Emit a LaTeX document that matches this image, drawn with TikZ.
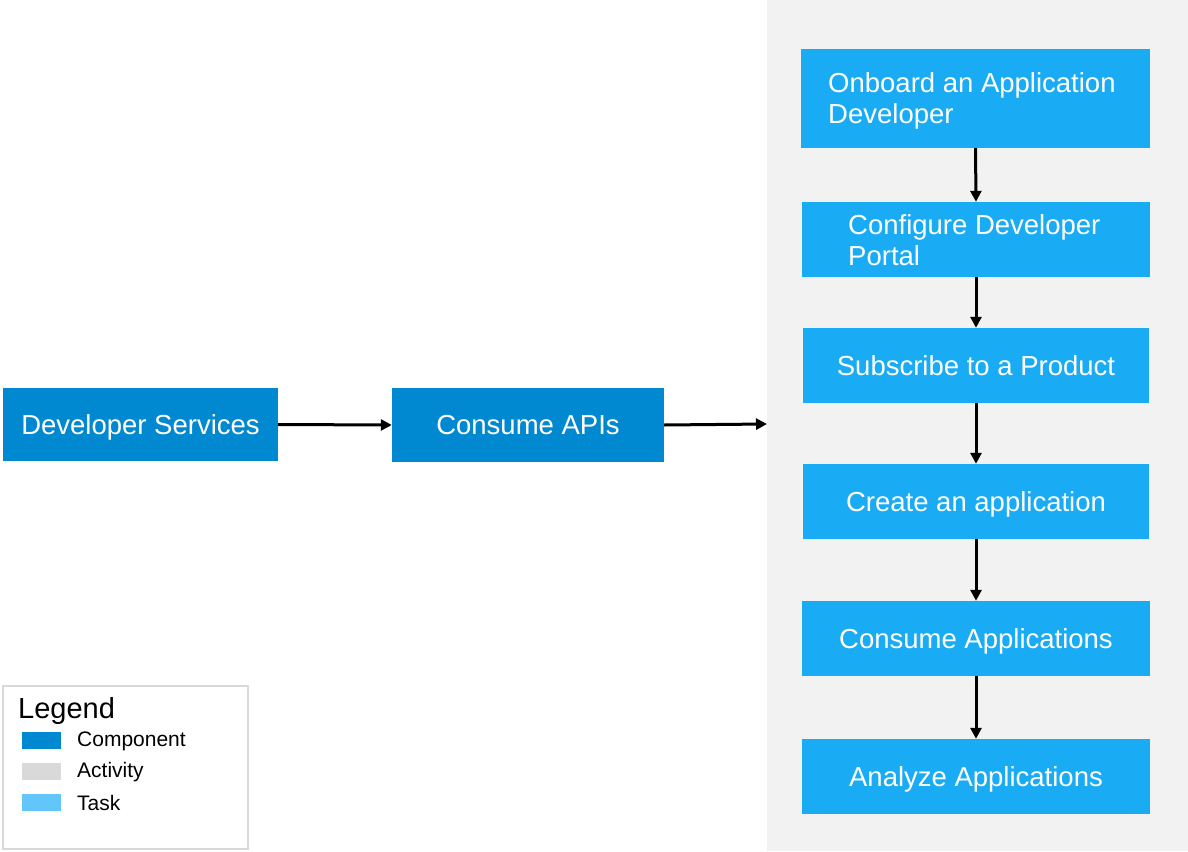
\documentclass[tikz,border=0pt]{standalone}
\usepackage{fontspec}
\setmainfont{Liberation Sans}
\usetikzlibrary{arrows.meta}
\definecolor{compc}{HTML}{0089D1}
\definecolor{taskc}{HTML}{1AABF5}
\definecolor{taskleg}{HTML}{63C6FA}
\definecolor{actc}{HTML}{D9D9D9}
\definecolor{panelc}{HTML}{F2F2F2}
\tikzset{
  compbox/.style={fill=compc, text=white, inner sep=0pt, font=\fontsize{27.5}{31}\selectfont, text height=19.5pt, text depth=0pt},
  taskbox/.style={fill=taskc, text=white, inner sep=0pt, font=\fontsize{27.5}{31}\selectfont},
  oneline/.style={text height=19.5pt, text depth=0pt},
  flow/.style={line width=3pt, -{Triangle[length=11pt,width=11pt]}},
  legtext/.style={anchor=west, inner sep=0pt, font=\fontsize{21}{25}\selectfont},
}
\begin{document}
\begin{tikzpicture}[x=1pt,y=-1pt]
\useasboundingbox (0,0) rectangle (1188,851);
\fill[panelc] (767,0) rectangle (1188,851);
\coordinate (pin) at (767,424);
% component boxes
\node[compbox, minimum width=275pt, minimum height=73pt] (ds) at (140.5,424.5) {Developer Services};
\node[compbox, minimum width=272pt, minimum height=74pt] (ca) at (528,425) {Consume APIs};
% task boxes
\node[taskbox, minimum width=349pt, minimum height=99pt] (t1) at (975.5,98.5) {};
\node[taskbox, anchor=north west, align=left, inner sep=0pt] (t1t) at (828,72) {Onboard an Application\\Developer};
\node[taskbox, minimum width=348pt, minimum height=75pt] (t2) at (976,239.5) {};
\node[taskbox, anchor=north west, align=left, inner sep=0pt] (t2t) at (848,214) {Configure Developer\\Portal};
\node[taskbox, oneline, minimum width=346pt, minimum height=75pt] (t3) at (976,365.5) {Subscribe to a Product};
\node[taskbox, oneline, minimum width=346pt, minimum height=75pt] (t4) at (976,501.5) {Create an application};
\node[taskbox, oneline, minimum width=348pt, minimum height=75pt] (t5) at (976,638.5) {Consume Applications};
\node[taskbox, oneline, minimum width=348pt, minimum height=75pt] (t6) at (976,776.5) {Analyze Applications};
% connectors
\draw[flow] (ds.east) -- (ca.west);
\draw[flow] (ca.east) -- (pin);
\draw[flow] (t1.south) -- (t2.north);
\draw[flow] (t2.south) -- (t3.north);
\draw[flow] (t3.south) -- (t4.north);
\draw[flow] (t4.south) -- (t5.north);
\draw[flow] (t5.south) -- (t6.north);
% legend
\draw[actc, line width=2pt, fill=white] (3,686) rectangle (248,849);
\node[anchor=west, inner sep=0pt, font=\fontsize{29}{33}\selectfont] (lg) at (18,711) {Legend};
\fill[compc] (22,732) rectangle (61,749);
\node[legtext] (l1) at (77,741) {Component};
\fill[actc] (22,763) rectangle (61,780);
\node[legtext] (l2) at (77,772) {Activity};
\fill[taskleg] (22,794) rectangle (61,811);
\node[legtext] (l3) at (77,803) {Task};
\end{tikzpicture}
\end{document}
